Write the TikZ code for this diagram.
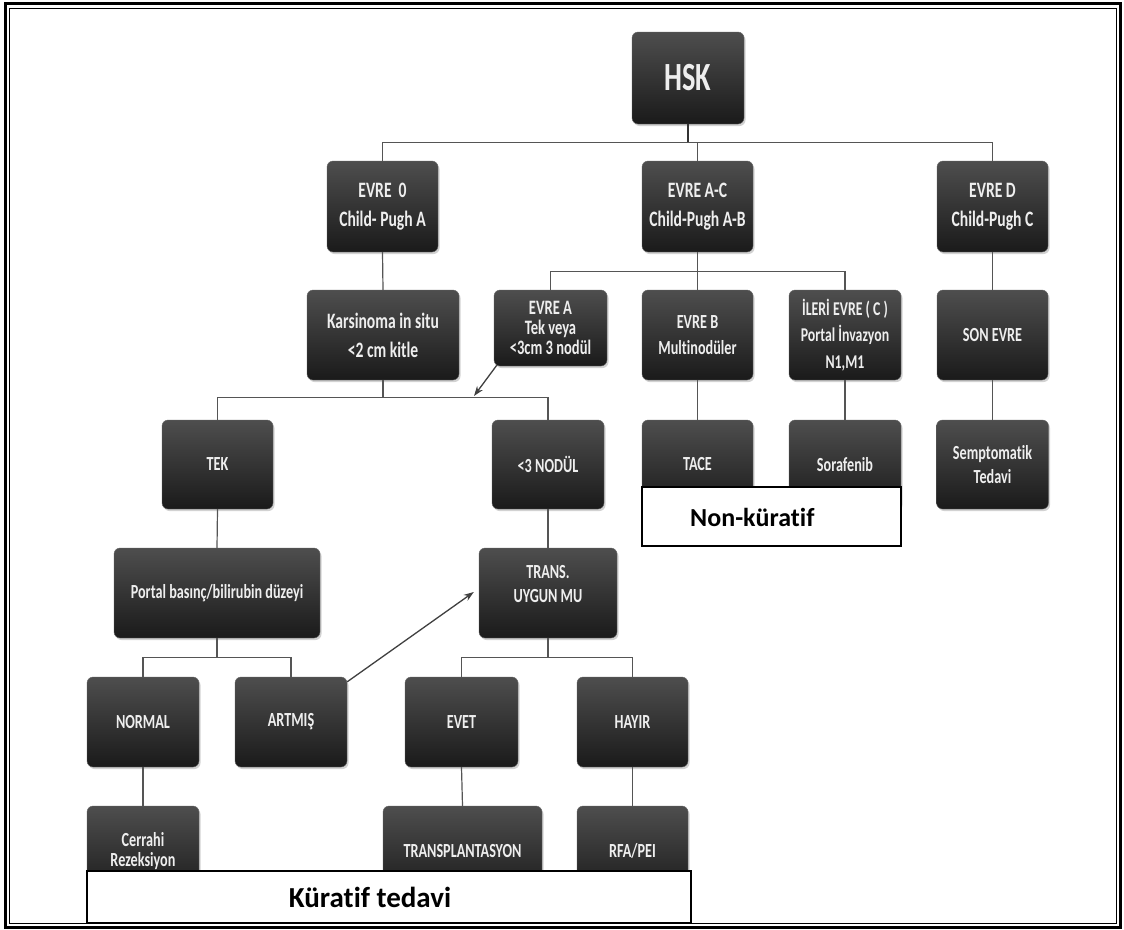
\documentclass[tikz,border=0pt]{standalone}
\usepackage{fontspec}
\usetikzlibrary{shadows,calc,arrows.meta}
\newfontfamily\boxfont[FakeStretch=0.71,Ligatures=NoCommon]{Carlito}
\newfontfamily\labfont[Ligatures=NoCommon]{Carlito}
\definecolor{boxtop}{RGB}{78,78,78}
\definecolor{boxbot}{RGB}{26,26,26}
\definecolor{lineclr}{RGB}{85,85,85}
\definecolor{boxtxt}{RGB}{238,238,238}
\begin{document}
\begin{tikzpicture}[x=1pt,y=-1pt,
  box/.style={rounded corners=6pt, top color=boxtop, bottom color=boxbot, draw=black!60, line width=0.4pt, text=boxtxt, align=center, inner sep=0pt,
    drop shadow={opacity=0.35, shadow xshift=1.5pt, shadow yshift=-2pt}},
  big/.style={font=\boxfont\bfseries\fontsize{22}{29}\selectfont},
  small/.style={font=\boxfont\bfseries\fontsize{20}{24}\selectfont},
  conn/.style={draw=lineclr, line width=1.2pt},
  arr/.style={draw=black!75, line width=1.3pt, -{Stealth[length=10pt,width=7pt]}},
  tag/.style={draw=black, line width=1.8pt, fill=white},
]
\useasboundingbox (0,0) rectangle (1124,929);
\fill[white] (0,0) rectangle (1124,929);

\coordinate (busTop) at (688,143);
% ---- boxes
% row 0
\node[box, minimum width=112pt, minimum height=92pt, font=\boxfont\bfseries\fontsize{40}{42}\selectfont] (hsk) at (688,78) {HSK};
% row 1
\node[box,big,minimum width=111pt,minimum height=91pt] (evre0) at (382.5,206.5) {EVRE\ \ 0\\Child- Pugh A};
\node[box,big,minimum width=111pt,minimum height=91pt] (evreAC) at (697.5,206.5) {EVRE A-C\\Child-Pugh A-B};
\node[box,big,minimum width=111pt,minimum height=91pt] (evreD) at (992.5,206.5) {EVRE D\\Child-Pugh C};
% row 2
\node[box,big,minimum width=152pt,minimum height=90pt] (kars) at (383,335) {Karsinoma in situ\\<2 cm kitle};
\node[box,minimum width=113pt,minimum height=76pt,font=\boxfont\bfseries\fontsize{20.5}{20}\selectfont] (evreA) at (550.5,328) {EVRE A\\Tek veya\\<3cm 3 nodül};
\node[box,minimum width=111pt,minimum height=90pt,font=\boxfont\bfseries\fontsize{20}{26}\selectfont] (evreB) at (697.5,335) {EVRE B\\Multinodüler};
\node[box,minimum width=112pt,minimum height=90pt,font=\boxfont\bfseries\fontsize{19.5}{26.5}\selectfont] (ileri) at (845,335) {İLERİ EVRE ( C )\\Portal İnvazyon\\N1,M1};
\node[box,small,minimum width=111pt,minimum height=90pt] (son) at (992.5,335) {SON EVRE};
% row 3
\node[box,small,minimum width=111pt,minimum height=89pt] (tek) at (217.5,464.5) {TEK};
\node[box,small,minimum width=112pt,minimum height=89pt] (nodul) at (548,464.5) {<3 NODÜL};
\node[box,small,minimum width=111pt,minimum height=89pt] (tace) at (697.5,464.5) {TACE};
\node[box,small,minimum width=112pt,minimum height=89pt] (sora) at (845,464.5) {Sorafenib};
\node[box,small,minimum width=112pt,minimum height=89pt] (semp) at (992.5,464.5) {Semptomatik\\Tedavi};
% row 4
\node[box,small,minimum width=206pt,minimum height=90pt] (portal) at (217,593) {Portal basınç/bilirubin düzeyi};
\node[box,small,minimum width=138pt,minimum height=90pt] (trans) at (548,593) {TRANS.\\UYGUN MU\\[-6pt]};
% row 5
\node[box,small,minimum width=112pt,minimum height=90pt] (normal) at (143,722) {NORMAL};
\node[box,small,minimum width=112pt,minimum height=90pt] (artmis) at (291,722) {ARTMIŞ};
\node[box,small,minimum width=113pt,minimum height=90pt] (evet) at (461.5,722) {EVET};
\node[box,small,minimum width=111pt,minimum height=90pt] (hayir) at (632.5,722) {HAYIR};
% row 6
\node[box,minimum width=112pt,minimum height=90pt,font=\boxfont\bfseries\fontsize{20}{20}\selectfont] (cerrahi) at (143,851) {Cerrahi\\Rezeksiyon};
\node[box,small,minimum width=159pt,minimum height=90pt] (transpl) at (462.5,851) {TRANSPLANTASYON};
\node[box,small,minimum width=111pt,minimum height=90pt] (rfa) at (632.5,851) {RFA/PEI};

% ---- tree connectors
\draw[conn, line width=2pt, draw=black!80] (hsk.south) -- (busTop);
\draw[conn] (evre0.north) -- ++(0,-18) -| (evreD.north);
\draw[conn] (evreAC.north) -- ++(0,-18);
\draw[conn] (evreAC.south) -- (evreB.north);
\draw[conn] (evreA.north) -- ++(0,-18) -| (ileri.north);
\draw[conn] (evre0.south) -- (kars.north);
\draw[conn] (evreD.south) -- (son.north);
\draw[conn] (kars.south) -- ++(0,18);
\draw[conn] (tek.north) -- ++(0,-22) -| (nodul.north);
\draw[conn] (evreB.south) -- (tace.north);
\draw[conn] (ileri.south) -- (sora.north);
\draw[conn] (son.south) -- (semp.north);
\draw[conn] (tek.south) -- (portal.north);
\draw[conn] (nodul.south) -- (trans.north);
\draw[conn] (portal.south) -- ++(0,20);
\draw[conn] (normal.north) -- ++(0,-19) -| (artmis.north);
\draw[conn] (trans.south) -- ++(0,20);
\draw[conn] (evet.north) -- ++(0,-19) -| (hayir.north);
\draw[conn] (normal.south) -- (cerrahi.north);
\draw[conn] (evet.south) -- (transpl.north);
\draw[conn] (hayir.south) -- (rfa.north);

% ---- arrows
\coordinate (tipA) at (474,396);
\draw[arr] ($(evreA.south west)+(3,-1)$) -- (tipA);
\draw[arr] ($(artmis.north east)+(0,5)$) -- ($(trans.west)+(-5,-1)$);

% ---- overlay tags
\node[tag, minimum width=259pt, minimum height=59pt, inner sep=0pt] (nonk) at (771.5,516.5) {};
\node[anchor=west, font=\labfont\bfseries\fontsize{26}{28}\selectfont, inner sep=0pt] (nonktxt) at (690,517) {Non-küratif};
\node[tag, minimum width=604pt, minimum height=52pt, inner sep=0pt] (kur) at (389,897) {};
\node[font=\labfont\bfseries\fontsize{29}{30}\selectfont, inner sep=0pt] (kurtxt) at (370,897) {Küratif tedavi};

% ---- frame
\draw[line width=3pt] (5.5,3.5) rectangle (1120.5,927);
\draw[line width=0.9pt] (9.5,8) rectangle (1116.5,923.5);
\end{tikzpicture}
\end{document}
